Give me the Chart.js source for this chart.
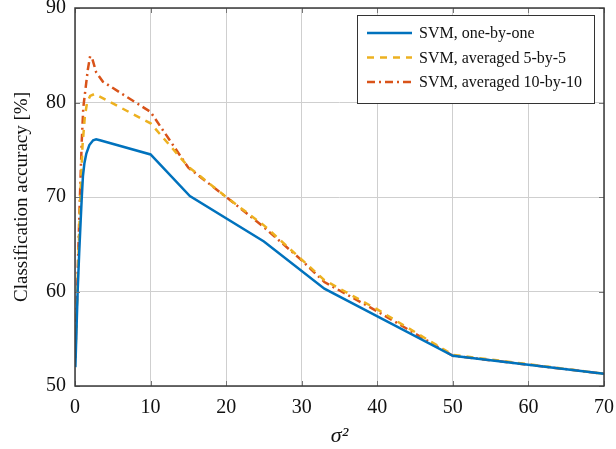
<!DOCTYPE html>
<html>
<head>
<meta charset="utf-8">
<script src="https://cdn.jsdelivr.net/npm/chart.js@4.4.1/dist/chart.umd.min.js"></script>
<style>
  html, body { margin: 0; padding: 0; background: #fff; }
  #wrap { width: 616px; height: 449px; }
</style>
</head>
<body>
<div id="wrap"><canvas id="chart" width="616" height="449"></canvas></div>
<script>
// sigma^2 values and accuracies [%]
const sigmaOne = [0.05, 0.2, 0.35, 0.55, 0.75, 0.9, 1.05, 1.25, 1.5, 1.9, 2.4, 2.8, 3.3, 10, 15.2, 25, 33, 50, 70];
const accOne   = [52, 56, 60, 64, 67.5, 70, 72.2, 73.6, 74.6, 75.5, 76.0, 76.1, 76.0, 74.5, 70.1, 65.3, 60.3, 53.2, 51.3];

const sigmaAvg5 = [0.05, 0.35, 0.7, 1.0, 1.3, 1.6, 2.0, 2.6, 10, 15, 20, 25, 33, 40, 50, 70];
const accAvg5   = [53, 61, 70, 75.5, 78.5, 80, 80.7, 80.9, 77.8, 73.2, 70, 67, 61.2, 58.1, 53.3, 51.3];

const sigmaAvg10 = [0.05, 0.35, 0.65, 0.9, 1.1, 1.4, 1.7, 2.0, 2.3, 2.8, 3.7, 10, 15, 20, 25, 30, 33, 40, 50, 70];
const accAvg10   = [53, 62, 70, 76, 79.5, 81.5, 83.5, 84.9, 84.6, 83.2, 82.2, 79, 73.1, 70, 66.8, 63.3, 61, 57.9, 53.2, 51.3];

const seriesLabels = ['SVM, one-by-one', 'SVM, averaged 5-by-5', 'SVM, averaged 10-by-10'];
const xTicks = [0, 10, 20, 30, 40, 50, 60, 70];
const yTicks = [50, 60, 70, 80, 90];

const serif = "'Liberation Serif', 'Times New Roman', serif";

function toPoints(xs, ys) {
  return xs.map((x, i) => ({ x: x, y: ys[i] }));
}

// axis box, inward tick marks and the legend inside the plot
const framePlugin = {
  id: 'frame',
  afterDraw(chart) {
    const ctx = chart.ctx;
    const a = chart.chartArea;
    const xs = chart.scales.x;
    const ys = chart.scales.y;
    ctx.save();
    ctx.strokeStyle = '#777';
    ctx.lineWidth = 1;
    ctx.beginPath();
    xTicks.forEach(v => {
      const px = Math.round(xs.getPixelForValue(v)) + 0.5;
      ctx.moveTo(px, a.bottom); ctx.lineTo(px, a.bottom - 5);
      ctx.moveTo(px, a.top); ctx.lineTo(px, a.top + 5);
    });
    yTicks.forEach(v => {
      const py = Math.round(ys.getPixelForValue(v)) + 0.5;
      ctx.moveTo(a.left, py); ctx.lineTo(a.left + 5, py);
      ctx.moveTo(a.right, py); ctx.lineTo(a.right - 5, py);
    });
    ctx.stroke();

    ctx.strokeStyle = '#3a3a3a';
    ctx.lineWidth = 1.5;
    ctx.strokeRect(a.left, a.top, a.right - a.left, a.bottom - a.top);

    // legend
    const bx = 357.5, by = 15.5, bw = 237, bh = 88;
    ctx.fillStyle = '#fff';
    ctx.fillRect(bx, by, bw, bh);
    ctx.strokeStyle = '#333';
    ctx.lineWidth = 1;
    ctx.strokeRect(bx, by, bw, bh);
    ctx.font = '16px ' + serif;
    ctx.textBaseline = 'middle';
    chart.data.datasets.forEach((ds, i) => {
      const ly = 33 + i * 24.5;
      ctx.strokeStyle = ds.borderColor;
      ctx.lineWidth = ds.borderWidth;
      ctx.setLineDash(ds.borderDash || []);
      ctx.beginPath();
      ctx.moveTo(367, ly); ctx.lineTo(412, ly);
      ctx.stroke();
      ctx.setLineDash([]);
      ctx.fillStyle = '#111';
      ctx.fillText(ds.label, 419, ly + 1);
    });
    ctx.restore();
  }
};

new Chart(document.getElementById('chart'), {
  type: 'line',
  data: {
    datasets: [
      {
        label: seriesLabels[0],
        data: toPoints(sigmaOne, accOne),
        borderColor: '#0072BD',
        borderWidth: 2.5,
        pointRadius: 0,
        tension: 0
      },
      {
        label: seriesLabels[1],
        data: toPoints(sigmaAvg5, accAvg5),
        borderColor: '#EDB120',
        borderWidth: 2.5,
        borderDash: [7, 6],
        pointRadius: 0,
        tension: 0
      },
      {
        label: seriesLabels[2],
        data: toPoints(sigmaAvg10, accAvg10),
        borderColor: '#D95319',
        borderWidth: 2.5,
        borderDash: [8, 4, 2, 4],
        pointRadius: 0,
        tension: 0
      }
    ]
  },
  options: {
    responsive: false,
    animation: false,
    layout: { padding: { top: 8, right: 12, left: 0, bottom: 0 } },
    plugins: {
      legend: { display: false },
      tooltip: { enabled: false }
    },
    scales: {
      x: {
        type: 'linear',
        min: 0,
        max: 70,
        afterFit: s => { s.height = 63; s.paddingLeft = 0; s.paddingRight = 0; },
        afterBuildTicks: s => { s.ticks = xTicks.map(v => ({ value: v })); },
        ticks: { color: '#111', font: { family: serif, size: 20 }, padding: 10, maxRotation: 0 },
        grid: { color: '#cfcfcf', lineWidth: 1, drawTicks: false },
        border: { display: false },
        title: {
          display: true,
          text: 'σ²',
          color: '#111',
          font: { family: serif, size: 22, style: 'italic' },
          padding: { top: 0, bottom: 0 }
        }
      },
      y: {
        type: 'linear',
        min: 50,
        max: 90,
        afterFit: s => { s.width = 75; s.paddingTop = 0; s.paddingBottom = 0; },
        afterBuildTicks: s => { s.ticks = yTicks.map(v => ({ value: v })); },
        ticks: { color: '#111', font: { family: serif, size: 20 }, padding: 9 },
        grid: { color: '#cfcfcf', lineWidth: 1, drawTicks: false },
        border: { display: false },
        title: {
          display: true,
          text: 'Classification accuracy [%]',
          color: '#111',
          font: { family: serif, size: 19 },
          padding: { top: 11, bottom: 0 }
        }
      }
    }
  },
  plugins: [framePlugin]
});
</script>
</body>
</html>
